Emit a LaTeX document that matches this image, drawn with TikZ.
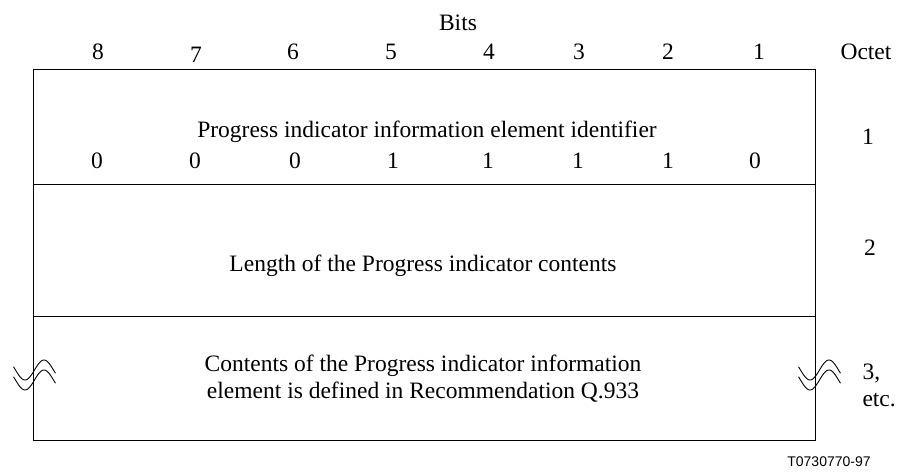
\documentclass[tikz,border=0pt]{standalone}
\usepackage{fontspec}
\setmainfont{Liberation Serif}
\setsansfont{Liberation Sans}
\begin{document}
\begin{tikzpicture}[
    x=1pt, y=-1pt,
    line width=1pt,
    txt/.style   = {inner sep=0pt, font=\fontsize{23.5}{27}\selectfont},
    code/.style  = {inner sep=0pt, font=\sffamily\fontsize{14}{16}\selectfont},
  ]
  \useasboundingbox (0,0) rectangle (900,473);

  % Eckpunkte des Kastens
  \coordinate (A1) at (33,70);
  \coordinate (A2) at (815,70);
  \coordinate (B1) at (33,185);
  \coordinate (B2) at (815,185);
  \coordinate (C1) at (33,316);
  \coordinate (C2) at (815,316);
  \coordinate (D2) at (815,440);

  % Kasten und Trennlinien
  \draw (A1) rectangle (D2);
  \draw (B1) -- (B2);
  \draw (C1) -- (C2);

  % Kopfzeile
  \node[txt] (bits) at (458,23) {Bits};
  \foreach \b/\px/\py in {8/98/52, 7/196/55, 6/293/52, 5/391/52, 4/489/52, 3/579/52, 2/668/52, 1/759/52}
    \node[txt] (bit\b) at (\px,\py) {\b};
  \node[txt] (octet) at (866,52) {Octet};

  % Oktett 1
  \node[txt] (ident) at (427,132) {Progress indicator information element identifier};
  \foreach \v/\px [count=\i] in {0/97, 0/195, 0/295, 1/393, 1/488, 1/578, 1/668, 0/755}
    \node[txt] (val\i) at (\px,161) {\v};
  \node[txt] (oct1) at (868,137) {1};

  % Oktett 2
  \node[txt] (length) at (423,266) {Length of the Progress indicator contents};
  \node[txt] (oct2) at (870,248) {2};

  % Oktett 3
  \node[txt, align=center] (contents) at (423,379)
    {Contents of the Progress indicator information\\element is defined in Recommendation Q.933};
  \node[txt, align=left, anchor=west] (oct3) at (862,385) {3,\\etc.};

  % Bruchstellen links und rechts
  \foreach \px in {34.5, 819.5} {
    \draw[line width=0.9pt, shift={(\px,370)}] plot[domain=-21:21, samples=40, smooth] (\x, {-10*sin(\x*180/19)});
    \draw[line width=0.9pt, shift={(\px,380)}] plot[domain=-21:21, samples=40, smooth] (\x, {-10*sin(\x*180/19)});
  }

  % Kennung
  \node[code] (tag) at (829,462) {T0730770-97};
\end{tikzpicture}
\end{document}
